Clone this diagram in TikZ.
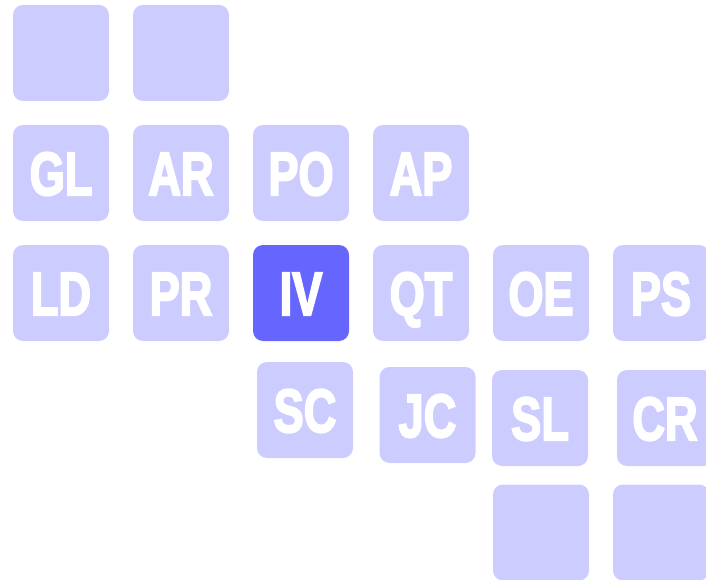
\documentclass[tikz,border=0pt]{standalone}
\usepackage{fontspec}
\setmainfont{Liberation Sans}[BoldFeatures={FakeBold=3.5}]
\definecolor{tilelight}{HTML}{CCCCFF}
\definecolor{tiledark}{HTML}{6666FF}
\tikzset{
  tile/.style={fill=tilelight, draw=none, rounded corners=10pt,
    minimum width=96pt, minimum height=96pt, inner sep=0pt,
    text=white, font=\fontsize{61}{61}\selectfont\bfseries,
    text height=44pt, text depth=0pt},
  current/.style={tile, fill=tiledark}
}
\newcommand{\tlabel}[1]{\scalebox{0.74}[1]{#1}}
\begin{document}
\begin{tikzpicture}[x=1pt, y=-1pt]
  \useasboundingbox (0,0) rectangle (706,580);
  \clip (0,0) rectangle (706,580);
  % top row
  \node[tile] (e1) at (61,53) {};
  \node[tile] (e2) at (181,53) {};
  % second row
  \node[tile] (gl) at (61,173) {\tlabel{GL}};
  \node[tile] (ar) at (181,173) {\tlabel{AR}};
  \node[tile] (po) at (301,173) {\tlabel{PO}};
  \node[tile] (ap) at (421,173) {\tlabel{AP}};
  % third row
  \node[tile] (ld) at (61,293) {\tlabel{LD}};
  \node[tile] (pr) at (181,293) {\tlabel{PR}};
  \node[current] (iv) at (301,293) {\tlabel{IV}};
  \node[tile] (qt) at (421,293) {\tlabel{QT}};
  \node[tile] (oe) at (541,293) {\tlabel{OE}};
  \node[tile] (ps) at (661,293) {\tlabel{PS}};
  % fourth row, slightly offset
  \node[tile] (sc) at (305,410) {\tlabel{SC}};
  \node[tile] (jc) at (427.5,415) {\tlabel{JC}};
  \node[tile] (sl) at (540,418) {\tlabel{SL}};
  \node[tile] (cr) at (665,418) {\tlabel{CR}};
  % bottom row
  \node[tile] (e3) at (541,532.5) {};
  \node[tile] (e4) at (661,532.5) {};
\end{tikzpicture}
\end{document}
